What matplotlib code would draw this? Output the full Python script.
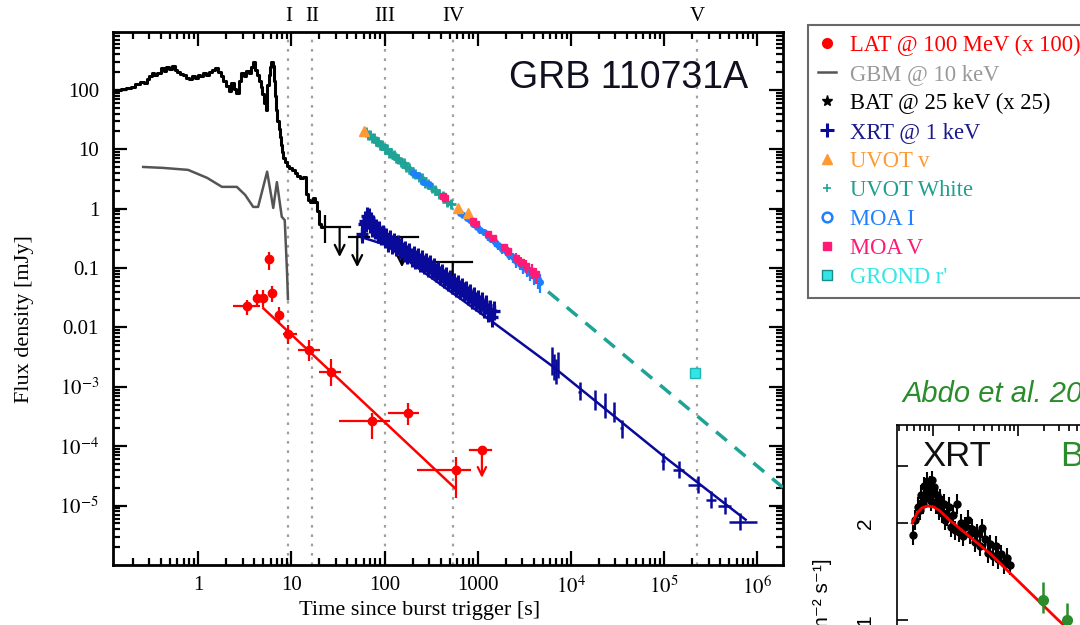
import numpy as np
import matplotlib
matplotlib.use('Agg')
import matplotlib.pyplot as plt
from matplotlib.lines import Line2D
from matplotlib.ticker import LogLocator, NullFormatter, NullLocator

plt.rcParams['font.family'] = 'Liberation Serif'
plt.rcParams['mathtext.fontset'] = 'stix'

# ---------------- data ----------------
# BAT light curve (x25), step curve
bat_t = [0.122, 0.14, 0.16, 0.18, 0.2, 0.22, 0.25, 0.27, 0.29, 0.31,
         0.33, 0.35, 0.38, 0.41, 0.44, 0.47, 0.5, 0.54, 0.58, 0.62,
         0.67, 0.72, 0.77, 0.82, 0.88, 0.95, 1.02, 1.1, 1.18, 1.27,
         1.36, 1.46, 1.57, 1.68, 1.8, 1.93, 2.05, 2.2, 2.35, 2.5,
         2.65, 2.8, 3.0, 3.2, 3.4, 3.6, 3.8, 4.0, 4.2, 4.4,
         4.6, 4.8, 5.0, 5.2, 5.4, 5.6, 5.8, 6.0, 6.2, 6.4,
         6.6, 6.8, 7.0, 7.2, 7.4, 7.6, 7.8, 8.0, 8.3, 8.7,
         9.2, 9.8, 10.5, 11.2, 12.0, 13.0, 14.0, 14.7, 15.5, 16.5,
         17.5, 18.5, 19.5, 20.5, 21.5]
bat_f = [100, 98, 105, 108, 112, 125, 135, 130, 150, 170,
         195, 175, 190, 230, 210, 245, 225, 250, 215, 200,
         185, 175, 160, 150, 170, 160, 180, 170, 190, 175,
         200, 215, 230, 200, 170, 140, 115, 95, 130, 105,
         90, 140, 190, 170, 210, 190, 240, 300, 220, 180,
         140, 110, 85, 60, 45, 120, 180, 240, 290, 250,
         140, 80, 45, 30, 22, 16, 12, 9, 7, 6,
         5.2, 4.8, 4.4, 4.0, 3.6, 3.3, 3.4, 1.8, 1.4, 1.3,
         1.5, 1.3, 0.9, 0.55, 0.5]
bat_pt_t = [23]
bat_pt_f = [0.5]
bat_pt_flo = [0.26]
bat_pt_fhi = [0.78]
# BAT upper limits
bat_ul_t = [33, 51, 154, 540]
bat_ul_f = [0.49, 0.33, 0.33, 0.127]
bat_ul_tlo = [21, 42, 80, 230]
bat_ul_thi = [43, 69, 230, 870]

# GBM @ 10 keV
gbm_t = [0.257, 0.42, 0.78, 1.25, 1.8, 2.6, 3.2, 3.9, 4.4, 5.5, 6.4, 7.0, 7.9, 8.5, 9.0, 9.2]
gbm_f = [5.04, 4.86, 4.5, 3.3, 2.33, 2.33, 1.7, 1.07, 1.07, 4.2, 1.03, 2.8, 0.73, 0.64, 0.083, 0.03]

# LAT @ 100 MeV (x100)
lat_t = [3.33, 4.25, 5.0, 5.8, 6.15, 7.4, 9.2, 15.5, 26.5, 74, 177, 580]
lat_f = [0.0231, 0.0316, 0.0316, 0.143, 0.038, 0.0163, 0.0078, 0.0042, 0.0018, 2.7e-4, 3.6e-4, 4.0e-5]
lat_tlo = [2.37, 3.9, 4.6, 5.6, 5.7, 6.9, 8.2, 11.8, 19.8, 32.6, 109, 225]
lat_thi = [4.6, 4.6, 5.5, 6.0, 6.6, 8.0, 11.5, 20.3, 34, 114, 235, 845]
lat_flo = [0.0163, 0.022, 0.022, 0.093, 0.027, 0.0115, 0.0053, 0.0027, 0.00105, 1.3e-4, 2.3e-4, 1.35e-5]
lat_fhi = [0.029, 0.042, 0.042, 0.19, 0.05, 0.022, 0.011, 0.0062, 0.003, 3.6e-4, 5.3e-4, 6.6e-5]
lat_ul_t = [1110]
lat_ul_f = [8.5e-5]
lat_ul_tlo = [820]
lat_ul_thi = [1400]
lat_fit_t = [5.0, 570]
lat_fit_f = [0.0211, 1.97e-5]

# XRT @ 1 keV
xrt_t = [58, 60, 62, 63, 65, 66, 68, 70, 72, 74, 76, 79, 82, 85, 88, 92, 96, 100,
         105, 110, 115, 120, 126, 132, 138, 145, 152, 160, 168, 176, 185, 195,
         205, 215, 226, 238, 250, 263, 276, 290, 305, 320, 337, 354, 372, 391,
         410, 431, 453, 476, 500, 525, 552, 580, 609, 640, 672, 706, 742, 780,
         820, 861, 905, 951, 1000, 1050, 1100, 1160, 1220, 1280, 1350, 1420, 1490]
xrt_f = [0.38, 0.55, 0.62, 0.58, 0.74, 0.66, 0.7, 0.57, 0.6, 0.49, 0.53, 0.44, 0.47,
         0.39, 0.43, 0.35, 0.37, 0.31, 0.33, 0.27, 0.3, 0.25, 0.27, 0.23, 0.25, 0.21,
         0.225, 0.185, 0.2, 0.168, 0.18, 0.15, 0.163, 0.138, 0.148, 0.126, 0.137,
         0.116, 0.125, 0.104, 0.114, 0.094, 0.1, 0.084, 0.09, 0.075, 0.08, 0.067,
         0.072, 0.06, 0.064, 0.053, 0.057, 0.048, 0.052, 0.044, 0.047, 0.04, 0.042,
         0.035, 0.037, 0.03, 0.033, 0.027, 0.03, 0.024, 0.027, 0.021, 0.024, 0.018,
         0.02, 0.015, 0.019]
xrt_rel_err = 0.45
xrt_late_t = [6300, 6600, 6900, 7200, 12400, 18000, 23000, 29000, 35000,
              97000, 145000, 230000, 320000, 450000, 660000]
xrt_late_f = [2.8e-3, 2.2e-3, 1.8e-3, 2.4e-3, 8.3e-4, 6.0e-4, 4.9e-4, 3.8e-4, 2.0e-4,
              5.6e-5, 4.0e-5, 2.2e-5, 1.25e-5, 1.0e-5, 5.4e-6]
xrt_late_tlo = [6200, 6500, 6800, 7100, 12000, 17500, 22500, 28000, 34000,
                92000, 125000, 180000, 280000, 380000, 500000]
xrt_late_thi = [6400, 6700, 7000, 7300, 12800, 18500, 23500, 30000, 36000,
                102000, 165000, 250000, 360000, 520000, 1000000]
xrt_late_flo = [1.6e-3, 1.3e-3, 1.1e-3, 1.4e-3, 6.0e-4, 4.0e-4, 3.0e-4, 2.6e-4, 1.4e-4,
                4.0e-5, 2.9e-5, 1.6e-5, 9.0e-6, 7.3e-6, 3.9e-6]
xrt_late_fhi = [4.6e-3, 3.6e-3, 3.0e-3, 3.8e-3, 1.2e-3, 9.0e-4, 7.8e-4, 5.6e-4, 2.8e-4,
                7.8e-5, 5.6e-5, 3.1e-5, 1.75e-5, 1.4e-5, 7.5e-6]
xrt_fit_t = [57, 104, 1350, 6400, 1.0e5, 7.5e5]
xrt_fit_f = [0.33, 0.245, 0.0134, 0.0022, 6.7e-5, 5.8e-6]

# optical
uvot_v_t = [61, 610, 790]
uvot_v_f = [20.4, 1.03, 0.85]
uvot_w_t = [64, 67, 70, 73, 77, 81, 85, 90, 95, 100, 106, 112, 118, 125, 133, 141,
            150, 160, 172, 185, 200, 215, 232, 250, 270, 295, 320, 350, 380, 420, 470, 520]
uvot_w_f = [19.8, 17.4, 17.6, 15.5, 15.4, 13.6, 13.5, 11.8, 11.7, 10.2, 10.1, 8.8,
            8.7, 8.1, 7.0, 6.9, 6.0, 5.9, 5.0, 4.8, 4.05, 3.9, 3.35, 3.25, 2.75, 2.6,
            2.2, 2.05, 1.75, 1.62, 1.32, 1.22]
moa_i_t = [200, 230, 260, 300, 640, 700, 760, 830, 900, 980, 1070, 1170, 1280, 1400,
           1530, 1670, 1820, 1990, 2170, 2370, 2590, 2830, 3090, 3370, 3680, 4020, 4400, 4700]
moa_i_f = [4.0, 3.7, 2.8, 2.6, 0.86, 0.78, 0.70, 0.64, 0.55, 0.50, 0.44, 0.40, 0.34,
           0.31, 0.27, 0.245, 0.21, 0.195, 0.168, 0.152, 0.13, 0.118, 0.104, 0.093,
           0.083, 0.074, 0.065, 0.058]
moa_i_err = [0.1, 0.1, 0.1, 0.1, 0.1, 0.1, 0.12, 0.12, 0.12, 0.12, 0.14, 0.14, 0.15,
             0.15, 0.16, 0.17, 0.18, 0.18, 0.2, 0.2, 0.22, 0.22, 0.24, 0.25, 0.28,
             0.3, 0.32, 0.35]
moa_v_t = [420, 450, 880, 950, 1300, 1450, 1900, 2100, 2600, 2900, 3300, 3800, 4200]
moa_v_f = [1.66, 1.5, 0.62, 0.56, 0.37, 0.32, 0.225, 0.197, 0.148, 0.128, 0.108, 0.09, 0.078]
moa_v_err = [0.08, 0.08, 0.1, 0.1, 0.12, 0.14, 0.15, 0.16, 0.2, 0.22, 0.25, 0.28, 0.3]
grond_t = [2.15e5]
grond_f = [1.72e-3]
opt_ext_t = [5700, 1.9e6]
opt_ext_f = [0.040, 2.0e-5]

# epochs
phase_t = [9.3, 16.6, 101, 550, 2.28e5]
phase_lab = ['I', 'II', 'III', 'IV', 'V']

# inset (Abdo et al.)
ins_t = [58, 62, 66, 70, 73, 76, 79, 82, 85, 88, 91, 94, 97, 100, 104, 108, 112, 117,
         122, 128, 134, 140, 147, 155, 163, 172, 181, 191, 202, 214, 227, 241, 256,
         272, 290, 310, 332, 356, 382, 410, 440, 472, 507, 545, 585, 630, 680, 735, 795]
ins_f = [1.84, 2.05, 2.25, 2.2, 2.45, 2.3, 2.6, 2.4, 2.7, 2.5, 2.62, 2.35, 2.72, 2.5,
         2.58, 2.3, 2.45, 2.2, 2.38, 2.15, 2.3, 2.05, 2.1, 2.25, 1.95, 2.12, 1.9, 2.3,
         1.88, 2.0, 1.82, 1.95, 2.05, 1.85, 1.92, 1.75, 1.86, 1.7, 1.93, 1.78, 1.62,
         1.72, 1.58, 1.7, 1.55, 1.6, 1.5, 1.56, 1.48]
ins_fit_t = [57, 65, 74, 87, 103, 121, 158, 468, 2870, 35700]
ins_fit_f = [2.0, 2.15, 2.23, 2.26, 2.24, 2.18, 2.04, 1.61, 1.01, 0.544]
ins_bat_t = [1967, 3775]
ins_bat_f = [1.154, 1.0]
ins_bat_flo = [1.05, 0.85]
ins_bat_fhi = [1.31, 1.13]

# colours
c_lat = '#ff0000'
c_gbm = '#555555'
c_xrt = '#0a0a9a'
c_uv = '#ff9933'
c_uw = '#1fa396'
c_moai = '#1e80ff'
c_moav = '#ff1a75'
c_grond = '#33e6e6'
c_green = '#2a8c2a'

fig = plt.figure(figsize=(10.8, 6.25), dpi=100)
ax = fig.add_axes([113/1080, 1-565/625, 670/1080, 533.3/625])
ax.set_xscale('log')
ax.set_yscale('log')

for t in phase_t:
    ax.axvline(t, color='#a0a0a0', ls=(0, (1.2, 3)), lw=1.6, zorder=0.5)
    
for t, lab in zip(phase_t, phase_lab):
    ax.text(t, 1.028, lab, transform=ax.get_xaxis_transform(), ha='center', va='center', fontsize=15)

# BAT
ax.plot(bat_t, bat_f, color='k', lw=2.2, drawstyle='steps-mid', zorder=3)
ax.errorbar(bat_pt_t, bat_pt_f, yerr=[np.subtract(bat_pt_f, bat_pt_flo), np.subtract(bat_pt_fhi, bat_pt_f)],
            fmt='none', ecolor='k', elinewidth=1.6, zorder=3)
for t, f, lo, hi in zip(bat_ul_t, bat_ul_f, bat_ul_tlo, bat_ul_thi):
    ax.plot([lo, hi], [f, f], color='k', lw=1.6, zorder=3)
    ax.annotate('', xy=(t, f/3.2), xytext=(t, f),
                arrowprops=dict(arrowstyle='->,head_length=0.7,head_width=0.35', color='k', lw=1.6,
                                shrinkA=0, shrinkB=0), zorder=3)

# GBM
ax.plot(gbm_t, gbm_f, color=c_gbm, lw=1.8, zorder=3)

# LAT
ax.plot(lat_fit_t, lat_fit_f, color=c_lat, lw=1.8, zorder=4)
ax.errorbar(lat_t, lat_f,
            xerr=[np.subtract(lat_t, lat_tlo), np.subtract(lat_thi, lat_t)],
            yerr=[np.subtract(lat_f, lat_flo), np.subtract(lat_fhi, lat_f)],
            fmt='o', color=c_lat, ms=6, elinewidth=1.6, capsize=0, zorder=4)
for t, f, lo, hi in zip(lat_ul_t, lat_ul_f, lat_ul_tlo, lat_ul_thi):
    ax.plot([lo, hi], [f, f], color=c_lat, lw=1.6, zorder=4)
    ax.plot([t], [f], 'o', color=c_lat, ms=6, zorder=4)
    ax.annotate('', xy=(t, f/2.9), xytext=(t, f),
                arrowprops=dict(arrowstyle='->,head_length=0.6,head_width=0.3', color=c_lat, lw=1.6,
                                shrinkA=0, shrinkB=0), zorder=4)

# XRT
ax.plot(xrt_fit_t, xrt_fit_f, color=c_xrt, lw=1.8, zorder=3)
xf = np.array(xrt_f)
ax.errorbar(xrt_t, xrt_f, yerr=[xf - xf/(1+xrt_rel_err), xf*xrt_rel_err],
            xerr=[np.array(xrt_t)*0.04, np.array(xrt_t)*0.04],
            fmt='+', color=c_xrt, ms=8, mew=2.4, elinewidth=2.2, capsize=0, zorder=3)
ax.errorbar(xrt_late_t, xrt_late_f,
            xerr=[np.subtract(xrt_late_t, xrt_late_tlo), np.subtract(xrt_late_thi, xrt_late_t)],
            yerr=[np.subtract(xrt_late_f, xrt_late_flo), np.subtract(xrt_late_fhi, xrt_late_f)],
            fmt='none', ecolor=c_xrt, elinewidth=1.8, capsize=0, zorder=3)

# optical
ax.plot(opt_ext_t, opt_ext_f, color=c_uw, lw=2.5, ls=(0, (4, 3)), zorder=3)
ax.plot(uvot_w_t, uvot_w_f, '+', color=c_uw, ms=7, mew=2, zorder=4)
ax.plot(uvot_w_t, uvot_w_f, '-', color=c_uw, lw=2.5, zorder=4)
mi = np.array(moa_i_f) * np.array(moa_i_err)
ax.errorbar(moa_i_t, moa_i_f, yerr=[mi, mi], fmt='o', color=c_moai, ms=4, elinewidth=1.6,
            capsize=0, zorder=4)
mv = np.array(moa_v_f) * np.array(moa_v_err)
ax.errorbar(moa_v_t, moa_v_f, yerr=[mv, mv], fmt='s', color=c_moav, ms=5, elinewidth=1.6,
            capsize=0, zorder=5)
ax.plot(uvot_v_t, uvot_v_f, '^', color=c_uv, ms=7, zorder=5)
ax.plot(grond_t, grond_f, 's', mfc=c_grond, mec='#22b5b5', ms=7, zorder=5)

ax.text(0.77, 0.914, 'GRB 110731A', transform=ax.transAxes, ha='center', va='center',
        fontsize=27, family='Liberation Sans', color='#101020')

ax.set_xlim(0.122, 1.89e6)
ax.set_ylim(1e-6, 10**2.98)
ax.set_xticks([1, 10, 100, 1000, 1e4, 1e5, 1e6])
ax.set_xticklabels(['1', '10', '100', '1000', r'$10^4$', r'$10^5$', r'$10^6$'])
ax.set_yticks([1e-5, 1e-4, 1e-3, 0.01, 0.1, 1, 10, 100])
ax.set_yticklabels([r'$10^{-5}$', r'$10^{-4}$', r'$10^{-3}$', '0.01', '0.1', '1', '10', '100'])
ax.xaxis.set_minor_locator(LogLocator(base=10, subs=np.arange(2, 10), numticks=20))
ax.yaxis.set_minor_locator(LogLocator(base=10, subs=np.arange(2, 10), numticks=20))
ax.xaxis.set_minor_formatter(NullFormatter())
ax.yaxis.set_minor_formatter(NullFormatter())
ax.tick_params(which='both', direction='in', top=True, right=True, labelsize=15, width=1.6)
ax.tick_params(which='major', length=10)
ax.tick_params(which='minor', length=5)
ax.tick_params(axis='x', pad=8)
ax.tick_params(axis='y', pad=10)
for s in ax.spines.values():
    s.set_linewidth(2.0)

fig.text(25/1080, 1-319/625, 'Flux density [mJy]', rotation=90, ha='center', va='center', fontsize=16)
fig.text(420/1080, 1-610/625, 'Time since burst trigger [s]', ha='center', va='center', fontsize=16)

# legend
handles = [
    Line2D([], [], ls='none', marker='o', color=c_lat, ms=7),
    Line2D([], [], color=c_gbm, lw=1.8),
    Line2D([], [], ls='none', marker='*', color='k', ms=8),
    Line2D([], [], ls='none', marker='+', color=c_xrt, ms=10, mew=2.2),
    Line2D([], [], ls='none', marker='^', color=c_uv, ms=7),
    Line2D([], [], ls='none', marker='+', color=c_uw, ms=6, mew=1.2),
    Line2D([], [], ls='none', marker='o', mfc='none', mec=c_moai, ms=7, mew=1.8),
    Line2D([], [], ls='none', marker='s', color=c_moav, ms=6),
    Line2D([], [], ls='none', marker='s', mfc=c_grond, mec='#1a8a8a', ms=7),
]
labels = ['LAT @ 100 MeV (x 100)', 'GBM @ 10 keV', 'BAT @ 25 keV (x 25)', 'XRT @ 1 keV',
          'UVOT v', 'UVOT White', 'MOA I', 'MOA V', "GROND r'"]
lab_colors = [c_lat, '#999999', '#000000', '#1a1a8c', c_uv, '#20a090', c_moai, c_moav, c_grond]
leg = fig.legend(handles, labels, loc='upper left', bbox_to_anchor=(808/1080, 1-25/625),
                 borderaxespad=0, frameon=True, fancybox=False, fontsize=16.3,
                 handlelength=0.8, handletextpad=0.6, labelspacing=0.35, borderpad=0.45,
                 labelcolor=lab_colors)
leg.get_frame().set_edgecolor('#444444')
leg.get_frame().set_linewidth(1.5)

# inset from Abdo et al.
ax2 = fig.add_axes([897/1080, 1-745/625, 403/1080, 320/625])
ax2.set_xscale('log')
ax2.set_yscale('log')
ax2.plot(ins_fit_t, ins_fit_f, color='red', lw=2, zorder=3)
fi = np.array(ins_f)
ax2.errorbar(ins_t, ins_f, yerr=[fi*0.07, fi*0.07], xerr=[np.array(ins_t)*0.03, np.array(ins_t)*0.03],
             fmt='o', color='k', ms=5, elinewidth=1.5, capsize=0, zorder=2)
ax2.errorbar(ins_bat_t, ins_bat_f,
             yerr=[np.subtract(ins_bat_f, ins_bat_flo), np.subtract(ins_bat_fhi, ins_bat_f)],
             xerr=[np.array(ins_bat_t)*0.08, np.array(ins_bat_t)*0.08],
             fmt='o', color=c_green, ms=7, elinewidth=1.8, capsize=0, zorder=4)
ax2.set_xlim(37.7, 2.08e6)
ax2.set_ylim(0.41, 4.03)
ax2.xaxis.set_ticks_position('top')
ax2.xaxis.set_minor_locator(LogLocator(base=10, subs=np.arange(2, 10), numticks=20))
ax2.xaxis.set_minor_formatter(NullFormatter())
ax2.tick_params(axis='x', which='both', direction='in', labeltop=False, labelbottom=False, width=1.2)
ax2.tick_params(axis='x', which='major', length=8)
ax2.tick_params(axis='x', which='minor', length=4)
ax2.set_yticks([1, 2, 3])
ax2.set_yticklabels(['1', '2', ''], rotation=90, va='center', family='Liberation Sans')
ax2.yaxis.set_minor_locator(NullLocator())
ax2.tick_params(axis='y', direction='in', length=8, width=1.2, labelsize=15, pad=16)
for s in ax2.spines.values():
    s.set_linewidth(1.2)

fig.text(922/1080, 1-466/625, 'XRT', fontsize=25, family='Liberation Sans', va='baseline', color='#111111')
fig.text(1060/1080, 1-466/625, 'BAT', fontsize=25, family='Liberation Sans', va='baseline', color=c_green)
fig.text(902/1080, 1-402/625, 'Abdo et al. 2013', fontsize=21, family='Liberation Sans',
         style='italic', va='baseline', color=c_green)
fig.text(822/1080, 1-558/625, 'Flux [10\u207b\u2079 erg cm\u207b\u00b2 s\u207b\u00b9]', rotation=90,
         ha='center', va='top', fontsize=15, family=['Liberation Sans', 'DejaVu Sans'])

fig.savefig('out.png', dpi=100)
